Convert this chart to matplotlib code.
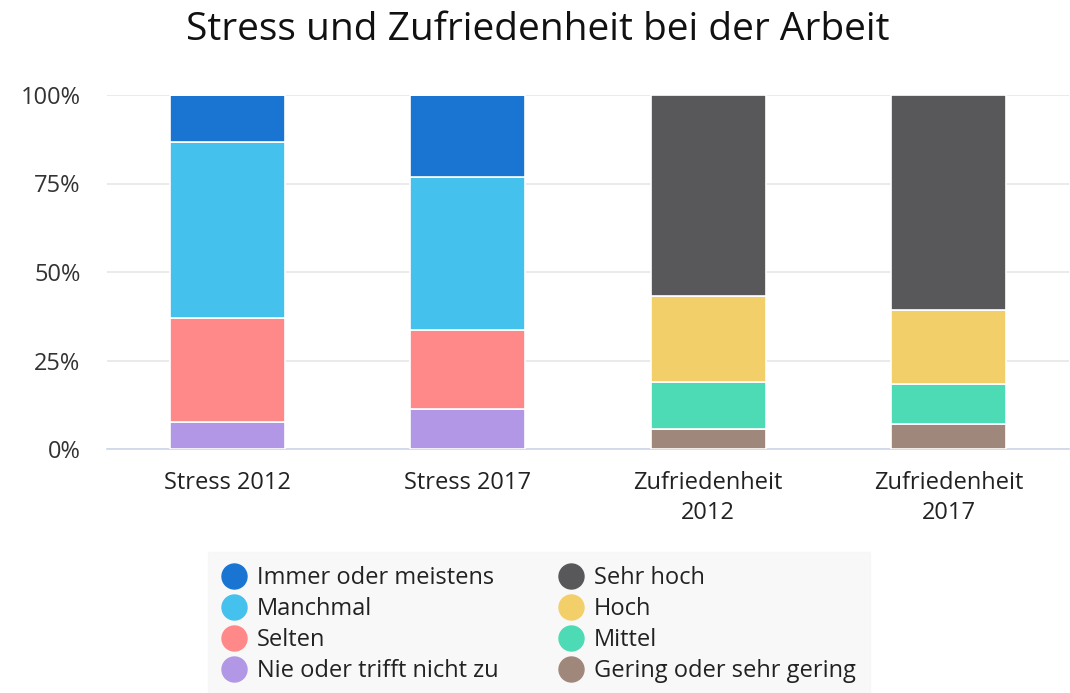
import matplotlib
matplotlib.use("Agg")
import matplotlib.pyplot as plt
import numpy as np
from matplotlib.lines import Line2D

plt.rcParams['font.family'] = ['Open Sans', 'DejaVu Sans']

categories = ['Stress 2012', 'Stress 2017', 'Zufriedenheit\n2012', 'Zufriedenheit\n2017']

# stress series (bottom to top), share in %
nie = [7.6, 11.3, 0, 0]
selten = [29.4, 22.3, 0, 0]
manchmal = [49.7, 43.2, 0, 0]
immer = [13.3, 23.2, 0, 0]
# satisfaction series (bottom to top)
gering = [0, 0, 5.6, 7.1]
mittel = [0, 0, 13.3, 11.3]
hoch = [0, 0, 24.3, 20.9]
sehr_hoch = [0, 0, 56.8, 60.7]

series = [
    ('Nie oder trifft nicht zu', nie, '#b197e5'),
    ('Selten', selten, '#ff8888'),
    ('Manchmal', manchmal, '#45c1ee'),
    ('Immer oder meistens', immer, '#1a75d2'),
    ('Gering oder sehr gering', gering, '#a0877b'),
    ('Mittel', mittel, '#4ddbb6'),
    ('Hoch', hoch, '#f3cf6a'),
    ('Sehr hoch', sehr_hoch, '#58585a'),
]

fig = plt.figure(figsize=(10.7, 6.93), dpi=100)
ax = fig.add_axes([107/1070, 1 - 449/693, 962/1070, 354/693])

x = np.arange(len(categories))
bottom = np.zeros(len(categories))
for name, vals, col in series:
    v = np.array(vals, dtype=float)
    ax.bar(x, v, 0.477, bottom=bottom, color=col, edgecolor='white', linewidth=1.2, zorder=3)
    bottom += v

ax.set_xlim(-0.5, 3.5)
ax.set_ylim(0, 100)
ax.set_yticks([0, 25, 50, 75, 100])
ax.set_yticklabels(['0%', '25%', '50%', '75%', '100%'])
ax.set_xticks(x)
ax.set_xticklabels(categories, fontsize=17, color='#222222', linespacing=1.3)
ax.tick_params(axis='y', labelsize=17, colors='#333333', length=0, pad=19)
ax.tick_params(axis='x', length=0, pad=16)
ax.grid(axis='y', color='#e6e6e6', linewidth=1.2, zorder=0)
for s in ['top', 'right', 'left']:
    ax.spines[s].set_visible(False)
ax.spines['bottom'].set_color('#ccd6eb')
ax.spines['bottom'].set_linewidth(1.2)

fig.text(538/1070, 1 - 30/693, 'Stress und Zufriedenheit bei der Arbeit', ha='center', va='center',
         fontsize=28, color='#111111')

# legend order: left column stress (top to bottom), right column satisfaction
leg_order = [3, 2, 1, 0, 7, 6, 5, 4]
handles = [Line2D([0], [0], marker='o', linestyle='none', markersize=18,
                  markerfacecolor=series[i][2], markeredgecolor=series[i][2]) for i in leg_order]
labels = [series[i][0] for i in leg_order]
leg = fig.legend(handles, labels, loc='upper center', bbox_to_anchor=(539/1070, 1 - 552/693), ncol=2,
                 frameon=True, fontsize=17, handletextpad=0.45, columnspacing=2.6,
                 labelspacing=0.3, borderpad=0.6, borderaxespad=0, handlelength=1.0)
leg.get_frame().set_facecolor('#f7f7f7')
leg.get_frame().set_edgecolor('#f7f7f7')
leg.get_frame().set_boxstyle('square', pad=0)
for t in leg.get_texts():
    t.set_color('#222222')

fig.savefig('out.png', dpi=100)
